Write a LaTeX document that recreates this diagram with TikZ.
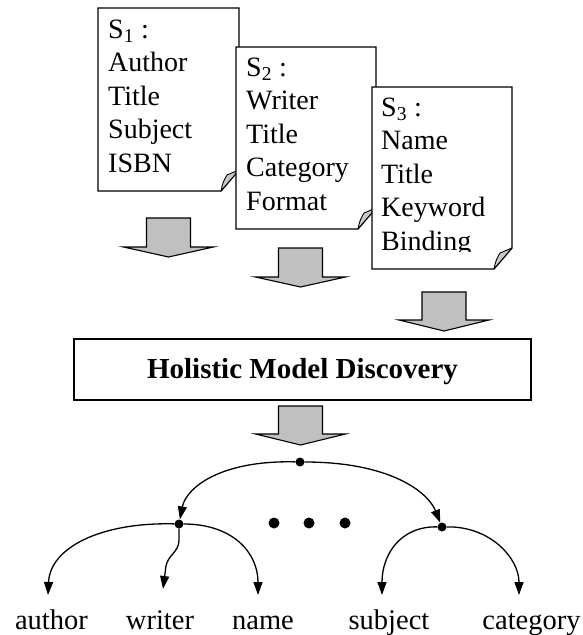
\documentclass[tikz,border=0pt]{standalone}
\usepackage{fontspec}
\setmainfont{Liberation Serif}
\usetikzlibrary{arrows.meta}
\definecolor{arrowgray}{HTML}{C0C0C0}
\definecolor{foldgray}{HTML}{C8C8C8}
\tikzset{
  docline/.style={draw=black,fill=white,line width=1.3pt},
  foldline/.style={draw=black,fill=foldgray,line width=0.9pt,line join=round},
  blockarr/.style={draw=black,fill=arrowgray,line width=1.1pt},
  doctext/.style={anchor=base west,inner sep=0pt,font=\fontsize{28}{33.5}\selectfont},
  boxtext/.style={font=\fontsize{29}{34}\selectfont\bfseries},
  leaf/.style={anchor=base,inner sep=0pt,font=\fontsize{28.5}{34}\selectfont},
  dot/.style={circle,fill=black,inner sep=0pt,minimum size=9pt},
  bigdot/.style={circle,fill=black,inner sep=0pt,minimum size=11pt},
  tree/.style={line width=1.3pt,-{Triangle[length=13pt,width=9pt]}},
}
\newcommand\docpage[4]{%
  \filldraw[docline] (#1,#2) -- (#3,#2) -- (#3,#4-21) -- (#3-18,#4) -- (#1,#4) -- cycle;
  \filldraw[foldline] (#3-18,#4) .. controls (#3-16,#4-9) .. (#3-12,#4-16) -- (#3,#4-21) -- cycle;
}
\newcommand\blockarrow[4]{%
  \filldraw[blockarr] (#1-22,#2) -- (#1+22,#2) -- (#1+22,#3) -- (#1+45,#3) -- (#1,#4) -- (#1-45,#3) -- (#1-22,#3) -- cycle;
}
\begin{document}
\begin{tikzpicture}[x=1pt,y=-1pt]
\useasboundingbox (0,0) rectangle (583,635);
% document 1
\docpage{98}{8}{239}{191}
\node[doctext] (s1a) at (108,38) {S\textsubscript{1} :};
\node[doctext] (s1b) at (108,71.5) {Author};
\node[doctext] (s1c) at (108,105) {Title};
\node[doctext] (s1d) at (108,138.5) {Subject};
\node[doctext] (s1e) at (108,172) {ISBN};
% document 2
\docpage{236}{47}{376}{229}
\node[doctext] (s2a) at (246,76) {S\textsubscript{2} :};
\node[doctext] (s2b) at (246,109.5) {Writer};
\node[doctext] (s2c) at (246,143) {Title};
\node[doctext] (s2d) at (246,176.5) {Category};
\node[doctext] (s2e) at (246,210) {Format};
% document 3
\docpage{372}{87}{512}{269}
\begin{scope}
\clip (372,87) rectangle (512,251);
\node[doctext] (s3a) at (381,116) {S\textsubscript{3} :};
\node[doctext] (s3b) at (381,149.5) {Name};
\node[doctext] (s3c) at (381,183) {Title};
\node[doctext] (s3d) at (381,216.5) {Keyword};
\node[doctext] (s3e) at (381,250) {Binding};
\end{scope}
% block arrows
\blockarrow{168.5}{218}{247}{257}
\blockarrow{300.5}{248}{277}{287}
\blockarrow{444}{292}{320}{331}
% main box
\draw[line width=1.5pt,fill=white] (74,339) rectangle (531,400);
\node[boxtext,anchor=base] (hmd) at (302.5,378) {Holistic Model Discovery};
\blockarrow{300.5}{406}{434}{445}
% tree
\node[dot] (top) at (300,462) {};
\node[dot] (ldot) at (179,524) {};
\node[dot] (rdot) at (442,527) {};
\node[bigdot] (e1) at (274,523) {};
\node[bigdot] (e2) at (309,523) {};
\node[bigdot] (e3) at (345,523) {};
\node[leaf] (author) at (51.5,629) {author};
\node[leaf] (writer) at (160,629) {writer};
\node[leaf] (name) at (263,629) {name};
\node[leaf] (subject) at (389,629) {subject};
\node[leaf] (category) at (531.5,629) {category};
\coordinate (ta) at (48,595);
\coordinate (tw) at (163,589);
\coordinate (tn) at (258,595);
\coordinate (ts) at (382,595);
\coordinate (tc) at (519,595);
\draw[tree] (top) .. controls (220,460) and (186,488) .. (ldot);
\draw[tree] (top) .. controls (390,462) and (428,492) .. (rdot);
\draw[tree] (ldot) .. controls (100,522) and (50,548) .. (ta);
\draw[tree] (ldot) -- (179,540) .. controls (179,552) and (168,555) .. (166,566) -- (tw);
\draw[tree] (ldot) .. controls (232,524) and (258,552) .. (tn);
\draw[tree] (rdot) .. controls (400,526) and (382,555) .. (ts);
\draw[tree] (rdot) .. controls (490,526) and (519,558) .. (tc);
\end{tikzpicture}
\end{document}
